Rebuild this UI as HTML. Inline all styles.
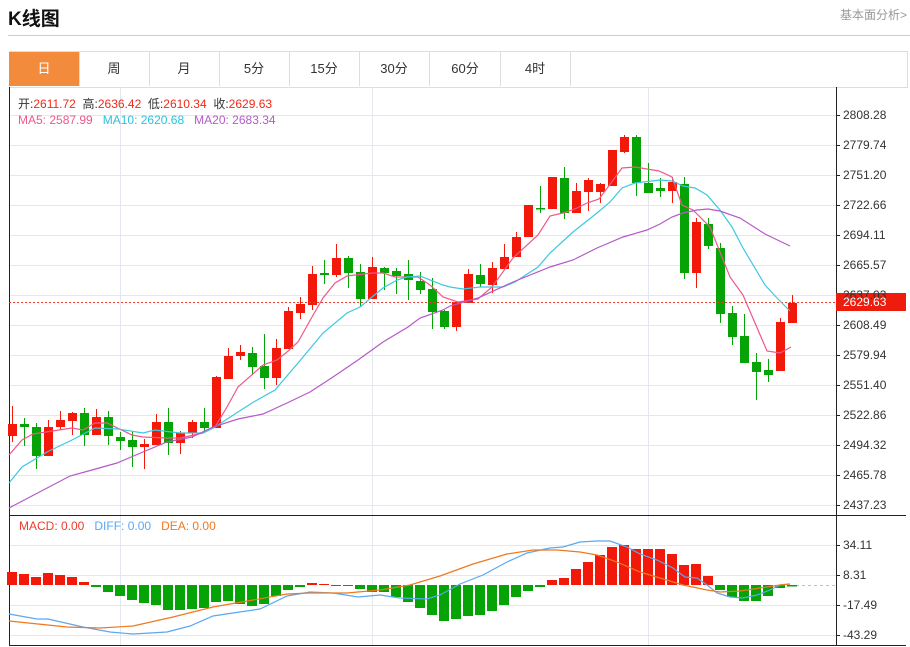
<!DOCTYPE html>
<html><head><meta charset="utf-8">
<style>
body{margin:0;width:910px;height:647px;background:#fff;font-family:"Liberation Sans","Noto Sans CJK SC",sans-serif;position:relative;overflow:hidden}
.t{position:absolute;white-space:nowrap}
.tab{position:absolute;top:52px;height:34px;line-height:34px;text-align:center;font-size:13px;color:#333;border-right:1px solid #ddd;width:70px}
</style></head><body>
<div class="t" style="left:8px;top:4px;font-size:19px;font-weight:bold;color:#111">K线图</div>
<div class="t" style="left:840px;top:6px;font-size:12px;color:#999">基本面分析&gt;</div>
<div style="position:absolute;left:8px;top:35px;width:902px;height:1px;background:#ccc"></div>
<div style="position:absolute;left:9px;top:51px;width:897px;height:35px;border:1px solid #ddd;border-bottom:1px solid #ddd"></div>
<div class="tab" style="left:9px;top:52px;background:#f28c3c;color:#fff;width:70px">日</div>
<div class="tab" style="left:79px">周</div>
<div class="tab" style="left:149px">月</div>
<div class="tab" style="left:219px">5分</div>
<div class="tab" style="left:289px">15分</div>
<div class="tab" style="left:359px">30分</div>
<div class="tab" style="left:430px">60分</div>
<div class="tab" style="left:500px">4时</div>
<svg id="s" width="910" height="647" style="position:absolute;left:0;top:0">
<g stroke="#e3e8ee" stroke-width="1">
<line x1="9" y1="115.5" x2="836" y2="115.5"/><line x1="9" y1="145.5" x2="836" y2="145.5"/><line x1="9" y1="175.5" x2="836" y2="175.5"/><line x1="9" y1="205.5" x2="836" y2="205.5"/><line x1="9" y1="235.5" x2="836" y2="235.5"/><line x1="9" y1="265.5" x2="836" y2="265.5"/><line x1="9" y1="295.5" x2="836" y2="295.5"/><line x1="9" y1="325.5" x2="836" y2="325.5"/><line x1="9" y1="355.5" x2="836" y2="355.5"/><line x1="9" y1="385.5" x2="836" y2="385.5"/><line x1="9" y1="415.5" x2="836" y2="415.5"/><line x1="9" y1="445.5" x2="836" y2="445.5"/><line x1="9" y1="475.5" x2="836" y2="475.5"/><line x1="9" y1="505.5" x2="836" y2="505.5"/>
<line x1="9" y1="545.5" x2="836" y2="545.5"/><line x1="9" y1="575.5" x2="836" y2="575.5"/><line x1="9" y1="605.5" x2="836" y2="605.5"/><line x1="9" y1="635.5" x2="836" y2="635.5"/>
<line x1="120.5" y1="87" x2="120.5" y2="645"/><line x1="372.5" y1="87" x2="372.5" y2="645"/><line x1="648.5" y1="87" x2="648.5" y2="645"/>
</g>
<line x1="9.5" y1="87" x2="9.5" y2="646" stroke="#222"/>
<line x1="836.5" y1="87" x2="836.5" y2="646" stroke="#222"/>
<line x1="9" y1="515.5" x2="906" y2="515.5" stroke="#222"/>
<line x1="9" y1="645.5" x2="906" y2="645.5" stroke="#222"/>
<g id="c"></g>
<line x1="9" y1="302.5" x2="836" y2="302.5" stroke="#f03a2a" stroke-dasharray="2,2"/>
<line x1="790" y1="585.5" x2="836" y2="585.5" stroke="#9cc8ee" stroke-dasharray="3,3"/>
<polyline fill="none" stroke="#f0588a" stroke-width="1.2" points="9,455 22,440 33,434 72,428 83,430 95,423 107,423 132,435 143,437 167,438 180,438 203,433 215,427 227,407 238,387 263,365 277,360 287,352 298,342 312,317 323,298 335,283 347,276 372,273 383,273 395,277 418,277 430,285 443,297 458,302 478,299 492,287 513,258 538,235 550,216 563,213 575,209 587,203 599,199 611,183 622,168 635,167 659,171 672,177 682,205 693,210 710,227 730,277 743,295 755,323 767,351 780,353 791,347"/>
<polyline fill="none" stroke="#3dc8e0" stroke-width="1.2" points="9,483 22,467 47,452 72,440 95,428 118,429 143,433 155,430 180,433 203,433 215,427 238,412 252,403 275,390 298,363 323,333 347,313 360,307 383,288 397,280 407,277 420,276 443,285 450,287 463,289 480,287 503,287 515,282 538,267 550,253 573,232 597,213 610,202 622,188 635,183 660,180 672,181 683,186 695,188 707,195 720,210 732,227 743,248 765,285 777,298 790,311"/>
<polyline fill="none" stroke="#b45ac8" stroke-width="1.2" points="9,508 70,476 92,470 117,463 143,452 167,442 192,437 213,427 238,419 263,414 287,403 310,392 333,377 358,360 383,342 408,327 420,318 443,310 450,306 478,298 513,282 550,267 573,260 597,248 623,237 647,230 660,224 672,217 683,213 697,210 708,209 720,211 740,218 765,234 790,246"/>
<g id="m"></g>
<polyline fill="none" stroke="#5aa8f0" stroke-width="1.2" points="9,614 37,619 48,619 83,627 110,632 133,634 167,632 190,626 213,616 233,613 260,609 287,596 310,592 333,593 358,597 380,595 400,598 427,599 440,595 460,584 483,575 507,562 527,553 550,548 563,547 580,542 597,541 610,541 627,547 640,554 657,560 673,568 685,577 697,578 707,585 717,593 730,597 743,598 757,595 770,590 780,585 790,584"/>
<polyline fill="none" stroke="#f07820" stroke-width="1.2" points="9,621 67,627 100,628 133,626 173,617 213,607 253,600 287,594 310,593 347,593 380,590 410,585 440,576 473,564 507,554 533,550 557,550 580,552 597,555 617,562 640,572 660,578 683,585 707,590 720,592 740,591 760,588 780,585 790,584"/>
<rect x="836" y="293" width="70" height="18" fill="#ee1c0c"/>
<g font-size="12" fill="#333" font-family="Liberation Sans, sans-serif">
<text x="843" y="119">2808.28</text><text x="843" y="149">2779.74</text><text x="843" y="179">2751.20</text><text x="843" y="209">2722.66</text><text x="843" y="239">2694.11</text><text x="843" y="269">2665.57</text><text x="843" y="299">2637.03</text><text x="843" y="329">2608.49</text><text x="843" y="359">2579.94</text><text x="843" y="389">2551.40</text><text x="843" y="419">2522.86</text><text x="843" y="449">2494.32</text><text x="843" y="479">2465.78</text><text x="843" y="509">2437.23</text>
<text x="843" y="549">34.11</text><text x="843" y="579">8.31</text><text x="843" y="609">-17.49</text><text x="843" y="639">-43.29</text>
<text x="843" y="306" fill="#fff">2629.63</text>
</g>
<g stroke="#222"><line x1="836" y1="115.5" x2="840" y2="115.5"/><line x1="836" y1="145.5" x2="840" y2="145.5"/><line x1="836" y1="175.5" x2="840" y2="175.5"/><line x1="836" y1="205.5" x2="840" y2="205.5"/><line x1="836" y1="235.5" x2="840" y2="235.5"/><line x1="836" y1="265.5" x2="840" y2="265.5"/><line x1="836" y1="325.5" x2="840" y2="325.5"/><line x1="836" y1="355.5" x2="840" y2="355.5"/><line x1="836" y1="385.5" x2="840" y2="385.5"/><line x1="836" y1="415.5" x2="840" y2="415.5"/><line x1="836" y1="445.5" x2="840" y2="445.5"/><line x1="836" y1="475.5" x2="840" y2="475.5"/><line x1="836" y1="505.5" x2="840" y2="505.5"/><line x1="836" y1="545.5" x2="840" y2="545.5"/><line x1="836" y1="575.5" x2="840" y2="575.5"/><line x1="836" y1="605.5" x2="840" y2="605.5"/><line x1="836" y1="635.5" x2="840" y2="635.5"/></g>
</svg>
<div class="t" style="left:18px;top:95px;font-size:12px;color:#333">开:<span style="color:#ee2a1a">2611.72</span>&nbsp; 高:<span style="color:#ee2a1a">2636.42</span>&nbsp; 低:<span style="color:#ee2a1a">2610.34</span>&nbsp; 收:<span style="color:#ee2a1a">2629.63</span></div>
<div class="t" style="left:18px;top:113px;font-size:12px"><span style="color:#f0588a">MA5: 2587.99</span>&nbsp;&nbsp; <span style="color:#2ec0dc">MA10: 2620.68</span>&nbsp;&nbsp; <span style="color:#b45ac8">MA20: 2683.34</span></div>
<div class="t" style="left:19px;top:519px;font-size:12px"><span style="color:#f03a2a">MACD: 0.00</span>&nbsp;&nbsp; <span style="color:#5aa8f0">DIFF: 0.00</span>&nbsp;&nbsp; <span style="color:#f07820">DEA: 0.00</span></div>
<script>
var R="#f2190a",G="#06a306";
var d=[["r",424,436,406,442],["g",424,427,418,446],["g",427,456,423,469],["r",427,456,420,456],["r",420,427,411,430],["r",413,421,412,435],["g",413,435,408,446],["r",417,435,409,435],["g",417,436,411,445],["g",437,441,432,450],["g",440,447,432,467],["r",444,447,439,469],["r",422,445,414,445],["g",422,443,408,455],["r",433,443,431,454],["r",422,433,420,438],["g",422,428,408,433],["r",377,428,376,428],["r",356,379,348,379],["r",352,356,345,360],["g",353,367,347,375],["g",366,378,334,389],["r",348,378,339,385],["r",311,349,307,349],["r",304,313,297,319],["r",274,305,266,310],["g",273,275,260,284],["r",258,275,244,277],["g",258,273,256,288],["g",272,299,264,307],["r",267,299,257,299],["g",268,273,267,290],["g",271,276,268,294],["g",274,280,260,300],["g",281,290,272,294],["g",289,312,278,329],["g",311,327,310,329],["r",302,327,301,331],["r",274,303,269,303],["g",275,284,264,287],["r",268,285,262,293],["r",257,269,244,269],["r",237,257,232,257],["r",205,237,205,237],["g",208,209,186,213],["r",177,209,177,209],["g",178,213,167,219],["r",191,213,183,213],["r",180,192,178,211],["r",184,192,183,203],["r",150,186,150,186],["r",137,152,135,153],["g",137,183,135,196],["g",183,193,163,193],["g",188,191,178,197],["r",182,191,177,203],["g",184,273,177,279],["r",222,273,218,288],["g",224,246,218,249],["g",248,314,243,323],["g",313,337,306,345],["g",336,363,314,363],["g",362,372,353,400],["g",370,375,359,382],["r",322,371,318,371],["r",303,323,295,323]];
var h=[572,574,577,573,575,577,582,587,592,596,600,603,605,610,610,609,608,602,601,604,606,604,596,590,587,583,584,585,585,589,592,592,597,602,608,615,621,619,616,615,611,605,597,591,587,580,578,569,562,555,547,545,549,549,549,554,565,564,576,590,597,601,601,596,588,586.5];
var s="",m="";
d.forEach(function(c,i){var x=12+12*i,col=c[0]=="r"?R:G;
s+='<line x1="'+(x+.5)+'" y1="'+c[3]+'" x2="'+(x+.5)+'" y2="'+c[4]+'" stroke="'+col+'"/>';
s+='<rect x="'+(x-4)+'" y="'+c[1]+'" width="9" height="'+Math.max(1.5,c[2]-c[1])+'" fill="'+col+'"/>';});
h.forEach(function(v,i){var x=12+12*i,z=585;var col=v<z?R:G;var y=Math.min(v,z),hh=Math.max(1,Math.abs(v-z));
m+='<rect x="'+(x-5)+'" y="'+y+'" width="10" height="'+hh+'" fill="'+col+'"/>';});
document.getElementById("c").innerHTML=s;document.getElementById("m").innerHTML=m;
</script>
</body></html>
